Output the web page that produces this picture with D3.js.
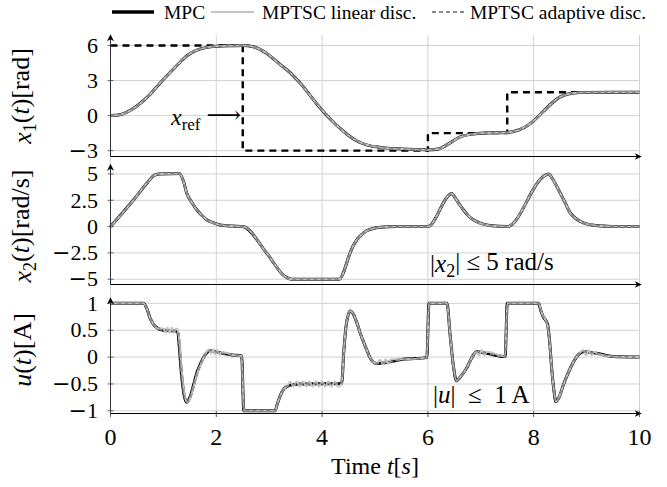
<!DOCTYPE html>
<html lang="en">
<head>
  <meta charset="utf-8" />
  <script src="https://d3js.org/d3.v7.min.js"></script>
  <style>
    body { margin: 0; background: #fff; }
    svg { font-family: "Liberation Serif", "DejaVu Serif", serif; }
    .grid line { stroke: #d2d2d2; stroke-width: 1; }
    .tick-label { font-size: 22px; fill: #000; }
    .xtick-label { font-size: 24px; fill: #000; }
    .legend text { font-size: 19.5px; }
    .minus { font-family: "DejaVu Serif", serif; }
  </style>
</head>
<body>
  <div id="visu"></div>
  <script>
    const width = 667, height = 487;

    // time axis
    const timeTicks = [0, 2, 4, 6, 8, 10];

    // reference x_ref (step after)
    const refX1 = [[0, 6], [2.5, -3], [6, -1.5], [7.5, 2], [10, 2]];

    // x1(t) [rad]
    const x1Mpc = [[0, 0], [0.2, 0.1], [0.43, 0.6], [0.7, 1.6], [0.94, 2.8], [1.15, 3.8], [1.31, 4.55],
      [1.45, 5.15], [1.6, 5.55], [1.8, 5.82], [2.0, 5.93], [2.3, 5.98], [2.5, 6.0], [2.7, 5.9],
      [2.96, 5.3], [3.2, 4.4], [3.39, 3.7], [3.6, 2.7], [3.9, 1.0], [4.2, -0.5], [4.34, -1.1],
      [4.5, -1.7], [4.65, -2.15], [4.84, -2.5], [5.1, -2.72], [5.5, -2.86], [6.0, -2.92], [6.2, -2.85],
      [6.45, -2.25], [6.6, -1.85], [6.8, -1.6], [7.0, -1.5], [7.5, -1.45], [7.7, -1.25], [7.85, -0.95],
      [8.0, -0.45], [8.18, 0.35], [8.35, 1.1], [8.5, 1.6], [8.65, 1.85], [8.87, 1.97], [10, 2.0]];
    const x1Linear = x1Mpc;
    const x1Adaptive = x1Mpc;

    // x2(t) [rad/s]
    const x2Mpc = [[0, 0], [0.43, 2.5], [0.7, 4.2], [0.82, 4.85], [0.92, 5.0], [1.3, 5.05], [1.38, 4.3],
      [1.44, 3.2], [1.55, 2.2], [1.63, 1.6], [1.72, 1.1], [1.82, 0.65], [1.95, 0.35], [2.07, 0.16],
      [2.3, 0.05], [2.5, 0.0], [2.95, -2.5], [3.3, -4.75], [3.42, -5.0], [4.33, -5.0], [4.4, -4.4],
      [4.5, -2.9], [4.58, -1.9], [4.65, -1.3], [4.75, -0.75], [4.84, -0.4], [4.95, -0.2], [5.1, -0.07],
      [5.4, 0], [6.0, 0], [6.4, 3.0], [6.45, 3.15], [6.52, 2.7], [6.6, 2.1], [6.67, 1.6], [6.76, 1.05],
      [6.86, 0.65], [7.0, 0.3], [7.17, 0.1], [7.5, 0.0], [8.18, 4.75], [8.28, 5.0], [8.36, 4.5],
      [8.5, 3.2], [8.6, 2.2], [8.69, 1.3], [8.8, 0.75], [8.94, 0.35], [9.1, 0.15], [9.32, 0.05],
      [9.6, 0], [10, 0]];
    const x2Linear = x2Mpc;
    const x2Adaptive = x2Mpc;

    // u(t) [A]
    const uMpc = [[0, 1], [0.62, 1], [0.68, 0.92], [0.75, 0.72], [0.82, 0.6], [0.9, 0.53], [1.0, 0.5],
      [1.27, 0.48], [1.3, 0.2], [1.34, -0.3], [1.39, -0.7], [1.44, -0.84], [1.5, -0.75], [1.57, -0.52],
      [1.63, -0.3], [1.69, -0.15], [1.78, 0.03], [1.88, 0.12], [2.07, 0.08], [2.3, 0.04], [2.48, 0.02],
      [2.52, -1.0], [3.11, -1.0], [3.16, -0.85], [3.2, -0.74], [3.27, -0.6], [3.33, -0.55], [3.45, -0.51],
      [3.58, -0.5], [4.37, -0.49], [4.41, 0.1], [4.45, 0.55], [4.53, 0.86], [4.58, 0.82], [4.65, 0.66],
      [4.72, 0.45], [4.78, 0.29], [4.85, 0.12], [4.9, 0.0], [5.03, -0.12], [5.22, -0.1], [5.53, -0.04],
      [5.98, -0.01], [6.02, 1], [6.36, 1], [6.42, 0.41], [6.48, -0.15], [6.54, -0.44], [6.62, -0.36],
      [6.73, -0.21], [6.82, -0.03], [6.92, 0.1], [7.11, 0.07], [7.46, 0.01], [7.5, 1], [8.09, 1],
      [8.14, 0.85], [8.18, 0.75], [8.26, 0.62], [8.3, 0.3], [8.34, -0.21], [8.38, -0.6], [8.42, -0.83],
      [8.48, -0.75], [8.56, -0.52], [8.65, -0.3], [8.75, -0.09], [8.85, 0.05], [8.94, 0.1], [9.19, 0.07],
      [9.5, 0.01], [10, 0]];
    const uLinear = [[0, 1], [0.62, 1], [0.68, 0.92], [0.75, 0.72], [0.82, 0.6], [0.9, 0.53], [1.0, 0.53],
      [1.04, 0.45], [1.08, 0.55], [1.12, 0.45], [1.16, 0.55], [1.2, 0.45], [1.24, 0.53], [1.28, 0.47],
      [1.31, 0.2], [1.35, -0.3], [1.4, -0.7], [1.45, -0.84], [1.51, -0.75], [1.58, -0.52], [1.64, -0.3],
      [1.7, -0.15], [1.78, 0.03], [1.86, 0.14], [1.9, 0.06], [1.94, 0.15], [1.98, 0.05], [2.02, 0.13],
      [2.06, 0.04], [2.1, 0.1], [2.3, 0.04], [2.48, 0.02], [2.52, -1.0], [3.11, -1.0], [3.16, -0.85],
      [3.2, -0.74], [3.27, -0.6], [3.33, -0.55], [3.4, -0.46], [3.46, -0.55], [3.52, -0.45], [3.58, -0.55],
      [3.64, -0.45], [3.7, -0.55], [3.76, -0.45], [3.82, -0.55], [3.88, -0.45], [3.94, -0.55], [4.0, -0.45],
      [4.06, -0.55], [4.12, -0.45], [4.18, -0.55], [4.24, -0.45], [4.3, -0.55], [4.37, -0.49], [4.41, 0.1],
      [4.45, 0.55], [4.53, 0.86], [4.58, 0.82], [4.65, 0.66], [4.72, 0.45], [4.78, 0.29], [4.85, 0.12],
      [4.9, 0.0], [5.03, -0.12], [5.1, -0.05], [5.15, -0.14], [5.2, -0.04], [5.25, -0.13], [5.3, -0.04],
      [5.53, -0.04], [5.98, -0.01], [6.02, 1], [6.36, 1], [6.42, 0.41], [6.48, -0.15], [6.54, -0.44],
      [6.62, -0.36], [6.73, -0.21], [6.82, -0.03], [6.92, 0.1], [6.97, 0.03], [7.02, 0.13], [7.07, 0.03],
      [7.12, 0.1], [7.46, 0.01], [7.5, 1], [8.09, 1], [8.16, 0.8], [8.26, 0.6], [8.3, 0.3], [8.34, -0.21],
      [8.38, -0.6], [8.42, -0.83], [8.48, -0.75], [8.56, -0.52], [8.65, -0.3], [8.75, -0.09], [8.85, 0.05],
      [8.94, 0.13], [8.99, 0.03], [9.04, 0.13], [9.09, 0.03], [9.14, 0.1], [9.19, 0.07], [9.5, 0.01], [10, 0]];
    const uAdaptive = uMpc;

    const yTicks1 = [-3, 0, 3, 6];
    const yTicks2 = [-5, -2.5, 0, 2.5, 5];
    const yTicks3 = [-1, -0.5, 0, 0.5, 1];

    const seriesNames = ["MPC", "MPTSC linear disc.", "MPTSC adaptive disc."];

    const styles = [
      { color: "#000", width: 3, dash: null },
      { color: "#c4c4c4", width: 2, dash: null },
      { color: "#8a8a8a", width: 1.8, dash: "4,3" }
    ];

    const panels = [
      { top: 35, bottom: 156.5, domain: [-3.5, 6.9], ticks: yTicks1, series: [x1Mpc, x1Linear, x1Adaptive] },
      { top: 164.5, bottom: 284.5, domain: [-5.5, 5.9], ticks: yTicks2, series: [x2Mpc, x2Linear, x2Adaptive] },
      { top: 298, bottom: 413.5, domain: [-1.05, 1.1], ticks: yTicks3, series: [uMpc, uLinear, uAdaptive] }
    ];

    const svg = d3.select("#visu").append("svg")
      .attr("width", width)
      .attr("height", height);

    const defs = svg.append("defs");
    defs.append("marker")
      .attr("id", "arrow")
      .attr("viewBox", "0 0 10 10")
      .attr("refX", 9).attr("refY", 5)
      .attr("markerWidth", 7).attr("markerHeight", 7)
      .attr("markerUnits", "userSpaceOnUse")
      .attr("orient", "auto")
      .append("path")
      .attr("d", "M0,0 L10,5 L0,10 L3,5 Z")
      .attr("fill", "#000");

    const x = d3.scaleLinear().domain([0, 10]).range([110.5, 639.5]);

    // number label with a wide minus sign
    function numLabel(sel) {
      sel.each(function (d) {
        const t = d3.select(this);
        if (d < 0) t.append("tspan").attr("class", "minus").text("\u2212");
        t.append("tspan").text(Math.abs(d));
      });
    }

    // vertical grid, continuous through the three panels
    svg.append("g").attr("class", "grid")
      .selectAll("line")
      .data(timeTicks)
      .enter().append("line")
      .attr("x1", d => x(d)).attr("x2", d => x(d))
      .attr("y1", 35).attr("y2", 417);

    panels.forEach((p, pi) => {
      const y = d3.scaleLinear().domain(p.domain).range([p.bottom, p.top]);
      const g = svg.append("g");

      g.append("g").attr("class", "grid")
        .selectAll("line")
        .data(p.ticks)
        .enter().append("line")
        .attr("x1", x(0)).attr("x2", x(10))
        .attr("y1", d => y(d)).attr("y2", d => y(d));

      // small y ticks
      g.selectAll(".ytick")
        .data(p.ticks)
        .enter().append("line")
        .attr("x1", x(0) - 3).attr("x2", x(0) + 3)
        .attr("y1", d => y(d)).attr("y2", d => y(d))
        .attr("stroke", "#444").attr("stroke-width", 0.8);

      g.selectAll(".tick-label")
        .data(p.ticks)
        .enter().append("text")
        .attr("class", "tick-label")
        .attr("x", 98)
        .attr("y", d => y(d))
        .attr("dy", "0.33em")
        .attr("text-anchor", "end")
        .call(numLabel);

      const line = d3.line()
        .x(d => x(d[0]))
        .y(d => y(d[1]))
        .curve(d3.curveMonotoneX);

      if (pi === 0) {
        g.append("path")
          .attr("d", d3.line().x(d => x(d[0])).y(d => y(d[1])).curve(d3.curveStepAfter)(refX1))
          .attr("fill", "none")
          .attr("stroke", "#000")
          .attr("stroke-width", 2.4)
          .attr("stroke-dasharray", "7,5");
      }

      p.series.forEach((s, si) => {
        g.append("path")
          .attr("d", line(s))
          .attr("fill", "none")
          .attr("stroke", styles[si].color)
          .attr("stroke-width", styles[si].width)
          .attr("stroke-linejoin", "round")
          .attr("stroke-dasharray", styles[si].dash);
      });

      // axes
      g.append("line")
        .attr("x1", x(0)).attr("x2", x(0))
        .attr("y1", p.bottom).attr("y2", p.top)
        .attr("stroke", "#333").attr("stroke-width", 1)
        .attr("marker-end", "url(#arrow)");
      g.append("line")
        .attr("x1", x(0)).attr("x2", x(10) + 1.5)
        .attr("y1", p.bottom).attr("y2", p.bottom)
        .attr("stroke", "#000").attr("stroke-width", 1)
        .attr("marker-end", "url(#arrow)");
    });

    // x tick marks and labels
    svg.selectAll(".xtick")
      .data(timeTicks)
      .enter().append("line")
      .attr("x1", d => x(d)).attr("x2", d => x(d))
      .attr("y1", 411).attr("y2", 417)
      .attr("stroke", "#444").attr("stroke-width", 0.8);

    svg.selectAll(".xlabel")
      .data(timeTicks)
      .enter().append("text")
      .attr("class", "xtick-label")
      .attr("x", d => x(d))
      .attr("y", 445)
      .attr("text-anchor", "middle")
      .text(d => d);

    function label(txtParts, tx, ty, size) {
      const t = svg.append("text").attr("x", tx).attr("y", ty).style("font-size", size + "px");
      let shifted = false;
      txtParts.forEach(([txt, italic, sub]) => {
        const s = t.append("tspan").text(txt);
        if (italic) s.style("font-style", "italic");
        if (sub) { s.style("font-size", Math.round(size * 0.7) + "px").attr("dy", "0.3em"); shifted = true; }
        else if (shifted) { s.attr("dy", "-0.3em"); shifted = false; }
      });
      return t;
    }

    label([["Time ", false], ["t", true], ["[", false], ["s", true], ["]", false]], x(5), 474, 24)
      .attr("text-anchor", "middle");

    // y labels
    label([["x", true], ["1", false, true], ["(", false], ["t", true], [")[rad]", false]], 0, 0, 26)
      .attr("transform", "translate(31,96) rotate(-90)").attr("text-anchor", "middle");
    label([["x", true], ["2", false, true], ["(", false], ["t", true], [")[rad/s]", false]], 0, 0, 26)
      .attr("transform", "translate(31,226) rotate(-90)").attr("text-anchor", "middle");
    label([["u", true], ["(", false], ["t", true], [")[A]", false]], 0, 0, 26)
      .attr("transform", "translate(31,350) rotate(-90)").attr("text-anchor", "middle");

    // annotations
    label([["|", false], ["x", true], ["2", false, true], ["| \u2264 5 rad/s", false]], 430, 272, 25);
    label([["|", false], ["u", true], ["|  \u2264  1 A", false]], 433, 403, 25).style("white-space", "pre");
    label([["x", true], ["ref", false, true], [" \u27F6", false]], 171, 125, 24);

    // legend, positioned like the reference
    const legendLines = [[112, 154], [211, 254], [432, 465]];
    const legendText = [164, 262, 470];
    const legend = svg.append("g").attr("class", "legend");
    seriesNames.forEach((name, i) => {
      legend.append("line")
        .attr("x1", legendLines[i][0]).attr("x2", legendLines[i][1])
        .attr("y1", 12).attr("y2", 12)
        .attr("stroke", styles[i].color)
        .attr("stroke-width", i === 0 ? 3.5 : 2.2)
        .attr("stroke-dasharray", styles[i].dash);
      legend.append("text").attr("x", legendText[i]).attr("y", 18.5).text(name);
    });
  </script>
</body>
</html>
